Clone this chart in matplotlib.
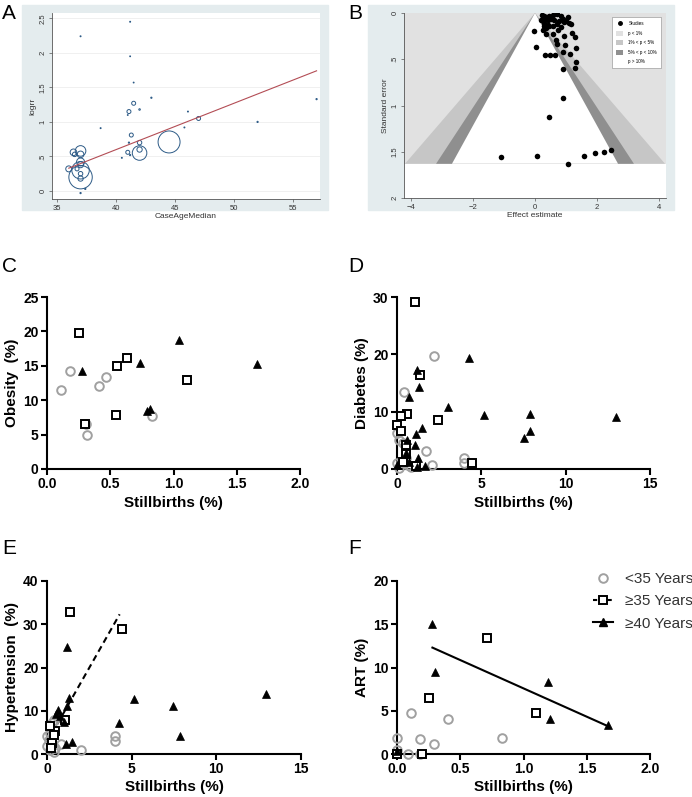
import numpy as np
import matplotlib.pyplot as plt
from matplotlib.lines import Line2D
from matplotlib.patches import Patch, Rectangle, Polygon

plt.rcParams['font.family'] = ['Liberation Sans', 'DejaVu Sans']

W, H = 692, 797

# ---------------- data ----------------
# A: meta-regression of logrr on case median age (bubble = study weight)
a_age = [37, 37, 37, 37, 37, 37, 36.4, 36.5, 36.0, 37, 37, 36.7, 37, 37.4, 37,
         38.7, 41, 41.2, 41.1, 41.5, 41.3, 42, 42, 42, 42, 41.1, 41.5, 41.2, 41.2,
         40.5, 41, 43, 44.5, 45.8, 46.1, 47, 52, 57]
a_logrr = [0.2, 0.3, 0.38, 0.42, 0.53, 0.58, 0.56, 0.53, 0.32, 0.18, 0.25, 0.32,
           -0.03, 0.03, 2.24, 0.91, 0.56, 0.52, 1.15, 1.27, 0.81, 0.7, 0.6, 0.55,
           1.18, 0.7, 1.57, 2.45, 1.95, 0.48, 1.1, 1.35, 0.71, 0.92, 1.15, 1.05,
           1.0, 1.33]
a_weight = [137, 76, 9, 16, 11, 28, 11, 5, 9, 7, 5, 4, 0.4, 0.4, 0.25, 0.25, 4,
            0.4, 4, 4, 4, 5, 7, 53, 0.6, 0.4, 0.2, 0.25, 0.2, 0.25, 0.2, 0.4, 121,
            0.25, 0.25, 4, 0.4, 0.4]
a_fit_x = [36, 57]
a_fit_y = [0.33, 1.74]

# B: contour-enhanced funnel plot
b_effect = [-0.04, 0.03, 0.32, 0.50, 0.66, 0.91, 0.89, 0.91, 0.46, -1.10, 0.06,
            1.07, 1.57, 1.95, 2.24, 2.46, 1.32, 1.28, 1.32, 1.14, 0.98, 0.70, 0.67,
            0.57, 0.35, 0.93, 1.18, 1.30, 0.75,
            0.23, 0.28, 0.35, 0.46, 0.57, 0.70, 0.84, 1.07, 0.25, 0.35, 0.19, 0.41,
            0.52, 0.62, 0.78, 0.95, 1.11, 1.16, 0.30, 0.41, 0.46, 0.35, 0.57, 0.70,
            0.89, 1.00, 0.84, 0.30, 0.25]
b_se = [0.19, 0.37, 0.45, 0.45, 0.45, 0.42, 0.61, 0.92, 1.12, 1.56, 1.55, 1.63,
        1.55, 1.51, 1.50, 1.48, 0.53, 0.59, 0.38, 0.44, 0.35, 0.34, 0.29, 0.23,
        0.23, 0.25, 0.22, 0.26, 0.18,
        0.02, 0.03, 0.04, 0.03, 0.02, 0.01, 0.03, 0.04, 0.05, 0.07, 0.08, 0.08,
        0.07, 0.08, 0.09, 0.10, 0.11, 0.12, 0.11, 0.13, 0.14, 0.16, 0.14, 0.12,
        0.07, 0.09, 0.15, 0.14, 0.18]
b_se_max = 1.63
b_levels = ['p < 1%', '1% < p < 5%', '5% < p < 10%', 'p > 10%']
b_z = [2.576, 1.96, 1.645]

# C: obesity
c_lt35_x = [0.11, 0.18, 0.41, 0.47, 0.31, 0.32, 0.83]
c_lt35_y = [11.5, 14.3, 12.1, 13.3, 6.5, 4.9, 7.7]
c_ge35_x = [0.25, 0.555, 0.63, 1.105, 0.545, 0.30]
c_ge35_y = [19.8, 15.0, 16.2, 13.0, 7.8, 6.6]
c_ge40_x = [0.276, 0.737, 1.047, 1.66, 0.79, 0.818]
c_ge40_y = [14.2, 15.4, 18.7, 15.25, 8.4, 8.7]

# D: diabetes
d_lt35_x = [2.19, 0.43, 1.74, 2.05, 4.0, 4.0, 0.0, 0.14, 0.34, 0.24, 0.43, 0.63,
            0.83, 0.14, 0.53, 0.0]
d_lt35_y = [19.7, 13.4, 3.1, 0.7, 2.0, 1.0, 6.3, 5.1, 4.5, 1.3, 1.0, 0.75, 0.3,
            0.2, 1.9, 1.0]
d_ge35_x = [1.07, 1.38, 2.45, 0.61, 0.24, 0.0, 0.24, 4.44, 0.53, 0.53, 1.12, 0.34]
d_ge35_y = [29.1, 16.4, 8.5, 9.6, 9.3, 7.7, 6.6, 1.0, 4.2, 2.7, 0.6, 1.3]
d_ge40_x = [4.26, 1.18, 1.28, 0.69, 3.02, 5.17, 7.89, 7.89, 7.5, 13.0, 1.5, 1.12,
            1.05, 0.59, 1.22, 1.66, 0.53, 0.73, 0.0, 1.18]
d_ge40_y = [19.3, 17.3, 14.3, 12.5, 10.8, 9.4, 9.6, 6.7, 5.4, 9.0, 7.2, 6.1, 4.2,
            5.1, 1.9, 0.6, 2.8, 1.3, 0.75, 0.35]

# E: hypertension
e_lt35_x = [4.0, 4.0, 2.03, 0.85, 0.39, 0.30, 0.16, 0.0, 0.10, 0.0, 0.20, 0.39,
            0.49, 0.35]
e_lt35_y = [4.1, 3.1, 1.0, 2.4, 7.9, 7.2, 4.8, 4.1, 3.3, 1.8, 1.0, 0.5, 1.4, 4.8]
e_ge35_x = [1.36, 4.45, 1.04, 0.45, 0.20, 0.30, 0.24, 0.39]
e_ge35_y = [32.8, 28.8, 7.9, 5.4, 6.4, 2.5, 1.4, 4.5]
e_ge40_x = [1.18, 1.28, 1.18, 0.65, 0.55, 0.79, 0.98, 5.12, 7.46, 4.23, 7.87,
            12.95, 1.48, 1.12]
e_ge40_y = [24.8, 12.9, 11.2, 10.1, 9.3, 8.8, 7.5, 12.7, 11.0, 7.2, 4.2, 13.9,
            2.8, 2.3]
e_fit_x = [0.3, 4.29]
e_fit_y = [4.8, 32.3]

# F: ART
f_lt35_x = [0.0, 0.0, 0.113, 0.18, 0.29, 0.40, 0.83, 0.09, 0.18]
f_lt35_y = [1.85, 0.5, 4.7, 1.77, 1.15, 4.0, 1.85, 0.0, 0.0]
f_ge35_x = [0.0, 0.2, 0.25, 0.71, 1.10]
f_ge35_y = [0.0, 0.0, 6.5, 13.4, 4.7]
f_ge40_x = [0.0, 0.28, 0.30, 1.19, 1.21, 1.67]
f_ge40_y = [0.4, 15.0, 9.5, 8.3, 4.0, 3.3]
f_fit_x = [0.28, 1.67]
f_fit_y = [12.3, 3.2]

groups = ['<35 Years', '\u226535 Years', '\u226540 Years']


def rect(l, t, r, b):
    return [l / W, 1 - b / H, (r - l) / W, (b - t) / H]


fig = plt.figure(figsize=(W / 100, H / 100), dpi=100)

# Stata style outer panels
stata_bg = '#e4ecee'
for l, t, r, b in [(22, 5, 328, 210), (368, 5, 674, 210)]:
    fig.patches.append(Rectangle((l / W, 1 - b / H), (r - l) / W, (b - t) / H,
                                 transform=fig.transFigure, color=stata_bg,
                                 zorder=-5))


def stata_axes(ax):
    for s in ['top', 'right']:
        ax.spines[s].set_visible(False)
    for s in ['left', 'bottom']:
        ax.spines[s].set_color('#555555')
        ax.spines[s].set_linewidth(0.6)
    ax.tick_params(direction='out', length=2.5, width=0.5, colors='#555555',
                   labelsize=5.5, labelcolor='#333333', pad=1.5)
    for lab in ax.get_yticklabels():
        lab.set_rotation(90)
        lab.set_va('center')


# ---- A ----
axA = fig.add_axes(rect(52, 13, 320, 199))
axA.set_xlim(34.58, 57.29)
axA.set_ylim(-0.116, 2.577)
axA.set_yticks([0, 0.5, 1, 1.5, 2, 2.5])
axA.set_yticklabels(['0', '.5', '1', '1.5', '2', '2.5'])
axA.set_xticks([35, 40, 45, 50, 55])
axA.grid(axis='y', color='#eeeeee', lw=0.6)
axA.set_axisbelow(True)
axA.scatter(a_age, a_logrr, s=np.array(a_weight) * 2.07, facecolors='none',
            edgecolors='#2c5a86', linewidths=0.7)
axA.plot(a_fit_x, a_fit_y, color='#b34d55', lw=0.8)
axA.set_xlabel('CaseAgeMedian', fontsize=6, color='#333333', labelpad=1)
axA.set_ylabel('logrr', fontsize=6, color='#333333', labelpad=2)
stata_axes(axA)

# ---- B ----
axB = fig.add_axes(rect(404, 13, 666, 198))
axB.set_xlim(-4.23, 4.23)
axB.set_ylim(2, 0)
fills = ['#e1e1e1', '#c6c6c6', '#8f8f8f', 'white']
axB.add_patch(Rectangle((-4.23, 0), 8.46, b_se_max, color=fills[0], lw=0, zorder=0))
for z, col in zip(b_z, fills[1:]):
    axB.add_patch(Polygon([(0, 0), (-z * b_se_max, b_se_max), (z * b_se_max, b_se_max)],
                          closed=True, color=col, lw=0, zorder=0))
axB.scatter(b_effect, b_se, s=16, color='black', zorder=3, lw=0)
axB.set_xticks([-4, -2, 0, 2, 4])
axB.set_yticks([0, 0.5, 1, 1.5, 2])
axB.set_yticklabels(['0', '.5', '1', '1.5', '2'])
axB.set_xlabel('Effect estimate', fontsize=6, color='#333333', labelpad=1)
axB.set_ylabel('Standard error', fontsize=6, color='#333333', labelpad=2)
stata_axes(axB)
handles = [Line2D([], [], marker='o', ls='none', color='black', markersize=2.5)]
handles += [Patch(facecolor=c, edgecolor='none') for c in fills]
legB = axB.legend(handles, ['Studies'] + b_levels, loc='upper right',
                  bbox_to_anchor=(0.99, 0.99), fontsize=3.3, frameon=True,
                  fancybox=False, edgecolor='#888888', framealpha=1,
                  handlelength=1.4, handleheight=1.4, labelspacing=0.9,
                  borderpad=0.9, handletextpad=1.2)
legB.get_frame().set_linewidth(0.4)


# ---- Prism style panels ----
def prism_axes(ax):
    for s in ['top', 'right']:
        ax.spines[s].set_visible(False)
    for s in ['left', 'bottom']:
        ax.spines[s].set_linewidth(1.5)
    ax.tick_params(direction='out', length=4, width=1.5, labelsize=10, pad=2)
    for lab in ax.get_xticklabels() + ax.get_yticklabels():
        lab.set_fontweight('bold')


def draw_groups(ax, xs, ys):
    styles = [dict(marker='o', mfc='none', mec='#a0a0a0', mew=1.4, ms=6.2),
              dict(marker='s', mfc='white', mec='black', mew=1.4, ms=6.0),
              dict(marker='^', mfc='black', mec='black', mew=0.5, ms=6.0)]
    for x, y, st in zip(xs, ys, styles):
        ax.plot(x, y, ls='none', clip_on=False, zorder=3, **st)


panels = [
    ('C', rect(47, 297, 300, 469), (0, 2), (0, 25), np.arange(0, 2.01, 0.5),
     np.arange(0, 26, 5), 'Obesity  (%)',
     (c_lt35_x, c_ge35_x, c_ge40_x), (c_lt35_y, c_ge35_y, c_ge40_y)),
    ('D', rect(397, 297, 650, 469), (0, 15), (0, 30), [0, 5, 10, 15],
     [0, 10, 20, 30], 'Diabetes (%)',
     (d_lt35_x, d_ge35_x, d_ge40_x), (d_lt35_y, d_ge35_y, d_ge40_y)),
    ('E', rect(47, 581, 301, 754), (0, 15), (0, 40), [0, 5, 10, 15],
     [0, 10, 20, 30, 40], 'Hypertension  (%)',
     (e_lt35_x, e_ge35_x, e_ge40_x), (e_lt35_y, e_ge35_y, e_ge40_y)),
    ('F', rect(397, 581, 650, 754), (0, 2), (0, 20), np.arange(0, 2.01, 0.5),
     [0, 5, 10, 15, 20], 'ART (%)',
     (f_lt35_x, f_ge35_x, f_ge40_x), (f_lt35_y, f_ge35_y, f_ge40_y)),
]

axes = {}
for name, r, xl, yl, xt, yt, ylab, xs, ys in panels:
    ax = fig.add_axes(r)
    ax.set_xlim(*xl)
    ax.set_ylim(*yl)
    ax.set_xticks(xt)
    ax.set_yticks(yt)
    if xl[1] == 2:
        ax.set_xticklabels([f'{v:.1f}' for v in xt])
    draw_groups(ax, xs, ys)
    ax.set_xlabel('Stillbirths (%)', fontsize=11, fontweight='bold', labelpad=3)
    ax.set_ylabel(ylab, fontsize=11, fontweight='bold', labelpad=3)
    prism_axes(ax)
    axes[name] = ax

axes['E'].plot(e_fit_x, e_fit_y, color='black', lw=1.5, ls=(0, (3, 2)))
axes['F'].plot(f_fit_x, f_fit_y, color='black', lw=1.5)

# legend for panel F
leg_handles = [
    Line2D([], [], marker='o', ls='none', mfc='none', mec='#a0a0a0', mew=1.4, ms=6.2),
    Line2D([], [], marker='s', ls=(0, (2, 1.5)), color='black', mfc='white',
           mec='black', mew=1.4, ms=6.0, lw=1.5),
    Line2D([], [], marker='^', ls='-', color='black', ms=6.0, lw=1.5),
]
fig.legend(leg_handles, groups, loc='upper left', bbox_to_anchor=(593 / W, 1 - 572 / H),
           frameon=False, fontsize=11, borderpad=0, borderaxespad=0,
           handlelength=1.3, handletextpad=0.8, labelspacing=0.55,
           labelcolor='#333333')

# panel letters
for letter, x, y in [('A', 2, 4), ('B', 348, 4), ('C', 2, 257), ('D', 348, 257),
                     ('E', 2, 539), ('F', 348, 539)]:
    fig.text(x / W, 1 - y / H, letter, fontsize=15, va='top', ha='left')

fig.savefig('out.png', dpi=100)
